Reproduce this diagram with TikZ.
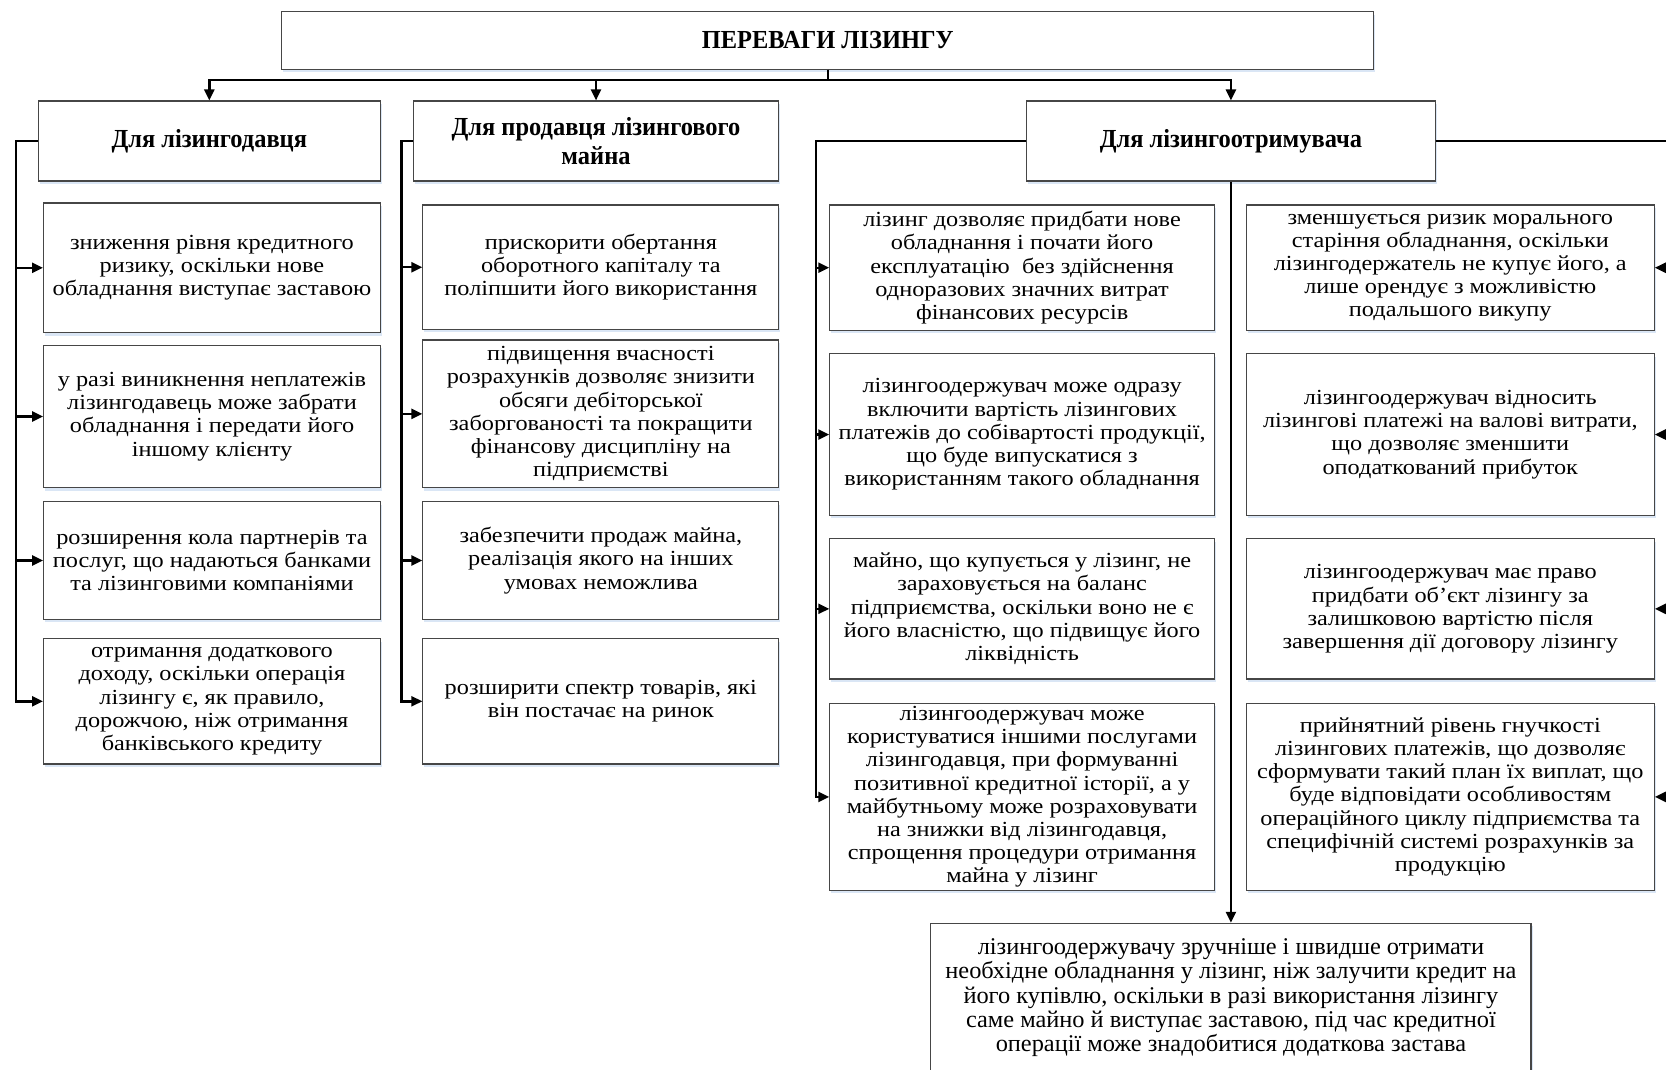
\documentclass[tikz,border=0pt]{standalone}
\usepackage{fontspec}
\setmainfont{Liberation Serif}
\newfontfamily\bodyf[FakeStretch=1.13]{Liberation Serif}
\newfontfamily\headf[FakeStretch=0.94]{Liberation Serif}
\newfontfamily\botf[FakeStretch=1.015]{Liberation Serif}
\usetikzlibrary{arrows.meta,shadows}
\definecolor{shadowc}{RGB}{218,230,245}
\definecolor{boxline}{RGB}{70,70,70}
\tikzset{
  basebox/.style={draw=boxline, line width=1.1pt, fill=white, inner sep=0pt, align=center,
    drop shadow={shadow xshift=1.5pt, shadow yshift=-3pt, fill=shadowc, opacity=1}},
  body/.style={basebox, font=\bodyf\fontsize{21.5}{23.2}\selectfont},
  head/.style={basebox, font=\headf\bfseries\fontsize{26}{28.7}\selectfont},
  botbox/.style={basebox, font=\botf\fontsize{24}{24.4}\selectfont},
  conn/.style={line width=2.4pt, black},
  arr/.style={conn, -{Triangle[length=11pt,width=10pt]}},
}
\begin{document}
\begin{tikzpicture}[x=1pt,y=-1pt]
\useasboundingbox (0,0) rectangle (1666,1069);
% top
\node[head, minimum width=1092pt, minimum height=57.4pt] (top) at (827.7,40.4) {ПЕРЕВАГИ ЛІЗИНГУ};
% headers
\node[head, minimum width=342pt, minimum height=80pt] (h1) at (209.3,141) {Для лізингодавця};
\node[head, minimum width=365.5pt, minimum height=80pt] (h2) at (596,141) {Для продавця лізингового\\майна};
\node[head, minimum width=409pt, minimum height=80pt] (h3) at (1230.9,141) {Для лізингоотримувача};
% column 1
\node[body, minimum width=336.8pt, minimum height=129.6pt] (a1) at (212,267.8) {зниження рівня кредитного\\ризику, оскільки нове\\обладнання виступає заставою};
\node[body, minimum width=336.8pt, minimum height=142.4pt] (a2) at (212,416.5) {у разі виникнення неплатежів\\лізингодавець може забрати\\обладнання і передати його\\іншому клієнту};
\node[body, minimum width=336.8pt, minimum height=117.9pt] (a3) at (212,560.5) {розширення кола партнерів та\\послуг, що надаються банками\\та лізинговими компаніями};
\node[body, minimum width=336.8pt, minimum height=125.4pt] (a4) at (212,701.3) {отримання додаткового\\доходу, оскільки операція\\лізингу є, як правило,\\дорожчою, ніж отримання\\банківського кредиту};
% column 2
\node[body, minimum width=355.9pt, minimum height=124.4pt] (b1) at (600.85,267.2) {прискорити обертання\\оборотного капіталу та\\поліпшити його використання};
\node[body, minimum width=355.9pt, minimum height=147.7pt] (b2) at (600.85,413.85) {підвищення вчасності\\розрахунків дозволяє знизити\\обсяги дебіторської\\заборгованості та покращити\\фінансову дисципліну на\\підприємстві};
\node[body, minimum width=355.9pt, minimum height=117.9pt] (b3) at (600.85,560.5) {забезпечити продаж майна,\\реалізація якого на інших\\умовах неможлива};
\node[body, minimum width=355.9pt, minimum height=125.4pt] (b4) at (600.85,701.3) {розширити спектр товарів, які\\він постачає на ринок};
% column 3
\node[body, minimum width=384.6pt, minimum height=125.4pt] (c1) at (1022.1,267.7) {лізинг дозволяє придбати нове\\обладнання і почати його\\експлуатацію\ \ без здійснення\\одноразових значних витрат\\фінансових ресурсів};
\node[body, minimum width=384.6pt, minimum height=161.5pt] (c2) at (1022.1,434.55) {лізингоодержувач може одразу\\включити вартість лізингових\\платежів до собівартості продукції,\\що буде випускатися з\\використанням такого обладнання};
\node[body, minimum width=384.6pt, minimum height=140.3pt] (c3) at (1022.1,608.85) {майно, що купується у лізинг, не\\зараховується на баланс\\підприємства, оскільки воно не є\\його власністю, що підвищує його\\ліквідність};
\node[body, minimum width=384.6pt, minimum height=187pt] (c4) at (1022.1,796.9) {лізингоодержувач може\\користуватися іншими послугами\\лізингодавця, при формуванні\\позитивної кредитної історії, а у\\майбутньому може розраховувати\\на знижки від лізингодавця,\\спрощення процедури отримання\\майна у лізинг};
% column 4
\node[body, minimum width=408pt, minimum height=125.4pt] (d1) at (1450.3,267.7) {зменшується ризик морального\\старіння обладнання, оскільки\\лізингодержатель не купує його, а\\лише орендує з можливістю\\подальшого викупу};
\node[body, minimum width=408pt, minimum height=161.5pt] (d2) at (1450.3,434.55) {лізингоодержувач відносить\\лізингові платежі на валові витрати,\\що дозволяє зменшити\\оподаткований прибуток};
\node[body, minimum width=408pt, minimum height=140.3pt] (d3) at (1450.3,608.85) {лізингоодержувач має право\\придбати об’єкт лізингу за\\залишковою вартістю після\\завершення дії договору лізингу};
\node[body, minimum width=408pt, minimum height=187pt] (d4) at (1450.3,796.9) {прийнятний рівень гнучкості\\лізингових платежів, що дозволяє\\сформувати такий план їх виплат, що\\буде відповідати особливостям\\операційного циклу підприємства та\\специфічній системі розрахунків за\\продукцію};
% bottom
\node[botbox, minimum width=600.2pt, minimum height=148.7pt] (bot) at (1230.9,997.65) {лізингоодержувачу зручніше і швидше отримати\\необхідне обладнання у лізинг, ніж залучити кредит на\\його купівлю, оскільки в разі використання лізингу\\саме майно й виступає заставою, під час кредитної\\операції може знадобитися додаткова застава};
% coordinates
\coordinate (j) at (827.7,79.7);
\coordinate (l1) at (16,141);
\coordinate (l2) at (401.6,141);
\coordinate (l3) at (816,141);
\coordinate (l4) at (1672,141);
% connectors
\draw[conn] (top.south) -- (j);
\draw[arr] (j) -| (h1.north);
\draw[arr] (j) -| (h2.north);
\draw[arr] (j) -| (h3.north);
\foreach \n in {a1,a2,a3,a4}{\draw[arr] (h1.west) -- (l1) |- (\n.west);}
\foreach \n in {b1,b2,b3,b4}{\draw[arr] (h2.west) -- (l2) |- (\n.west);}
\foreach \n in {c1,c2,c3,c4}{\draw[arr] (h3.west) -- (l3) |- (\n.west);}
\foreach \n in {d1,d2,d3,d4}{\draw[arr] (h3.east) -- (l4) |- (\n.east);}
\draw[arr] (h3.south) -- (bot.north);
\end{tikzpicture}
\end{document}
